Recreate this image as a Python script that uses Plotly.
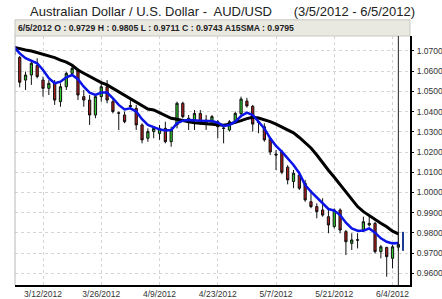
import plotly.graph_objects as go
import pandas as pd

dates = [d.strftime("%-m/%-d/%Y") for d in pd.bdate_range("2012-03-05", "2012-06-05")]

open_ = [1.0725, 1.0668, 1.0556, 1.0581, 1.0628, 1.0556, 1.0515, 1.0540, 1.0449, 1.0523,
         1.0589, 1.0606, 1.0474, 1.0457, 1.0383, 1.0474, 1.0523, 1.0449, 1.0394, 1.0383,
         1.0430, 1.0416, 1.0334, 1.0268, 1.0301, 1.0292, 1.0317, 1.0251, 1.0334, 1.0441,
         1.0350, 1.0358, 1.0391, 1.0342, 1.0342, 1.0350, 1.0319, 1.0309, 1.0350, 1.0390,
         1.0452, 1.0426, 1.0350, 1.0325, 1.0266, 1.0190, 1.0200, 1.0125, 1.0054, 1.0086,
         1.0045, 0.9954, 0.9930, 0.9913, 0.9880, 0.9831, 0.9913, 0.9806, 0.9748, 0.9766,
         0.9814, 0.9839, 0.9847, 0.9707, 0.9728, 0.9674, 0.9729]
high = [1.0735, 1.0675, 1.0598, 1.0655, 1.0664, 1.0573, 1.0556, 1.0556, 1.0540, 1.0598,
        1.0631, 1.0614, 1.0507, 1.0482, 1.0482, 1.0540, 1.0556, 1.0466, 1.0400, 1.0400,
        1.0457, 1.0433, 1.0342, 1.0317, 1.0329, 1.0334, 1.0350, 1.0325, 1.0449, 1.0449,
        1.0383, 1.0408, 1.0408, 1.0383, 1.0383, 1.0358, 1.0325, 1.0358, 1.0400, 1.0474,
        1.0468, 1.0433, 1.0358, 1.0342, 1.0275, 1.0210, 1.0210, 1.0135, 1.0111, 1.0103,
        1.0062, 1.0012, 0.9946, 0.9971, 0.9913, 0.9921, 0.9921, 0.9814, 0.9798, 0.9798,
        0.9880, 0.9888, 0.9855, 0.9740, 0.9731, 0.9740, 0.9805]
low = [1.0668, 1.0520, 1.0507, 1.0532, 1.0565, 1.0474, 1.0482, 1.0433, 1.0424, 1.0507,
       1.0581, 1.0457, 1.0424, 1.0334, 1.0367, 1.0449, 1.0441, 1.0391, 1.0309, 1.0342,
       1.0416, 1.0309, 1.0243, 1.0251, 1.0268, 1.0260, 1.0243, 1.0226, 1.0317, 1.0367,
       1.0309, 1.0309, 1.0334, 1.0309, 1.0334, 1.0268, 1.0243, 1.0301, 1.0342, 1.0380,
       1.0420, 1.0301, 1.0293, 1.0251, 1.0185, 1.0111, 1.0090, 1.0040, 1.0021, 1.0012,
       0.9954, 0.9922, 0.9872, 0.9880, 0.9798, 0.9822, 0.9798, 0.9690, 0.9715, 0.9723,
       0.9806, 0.9831, 0.9698, 0.9674, 0.9583, 0.9624, 0.9711]
close = [1.0680, 1.0545, 1.0581, 1.0639, 1.0573, 1.0515, 1.0540, 1.0457, 1.0523, 1.0589,
         1.0614, 1.0482, 1.0457, 1.0383, 1.0474, 1.0523, 1.0457, 1.0400, 1.0392, 1.0350,
         1.0425, 1.0334, 1.0260, 1.0301, 1.0317, 1.0317, 1.0251, 1.0309, 1.0441, 1.0375,
         1.0367, 1.0391, 1.0350, 1.0358, 1.0375, 1.0325, 1.0317, 1.0350, 1.0391, 1.0462,
         1.0428, 1.0338, 1.0346, 1.0260, 1.0200, 1.0185, 1.0100, 1.0062, 1.0095, 1.0021,
         0.9963, 0.9930, 0.9905, 0.9888, 0.9839, 0.9913, 0.9814, 0.9756, 0.9765, 0.9764,
         0.9855, 0.9847, 0.9707, 0.9731, 0.9682, 0.9731, 0.9743]

ma_fast = [1.0721, 1.0688, 1.0664, 1.0652, 1.0639, 1.0606, 1.0565, 1.0540, 1.0548, 1.0570,
           1.0581, 1.0560, 1.0523, 1.0494, 1.0482, 1.0494, 1.0494, 1.0466, 1.0433, 1.0411,
           1.0416, 1.0400, 1.0362, 1.0334, 1.0322, 1.0312, 1.0306, 1.0309, 1.0342, 1.0355,
           1.0358, 1.0358, 1.0355, 1.0353, 1.0353, 1.0345, 1.0329, 1.0334, 1.0350, 1.0378,
           1.0395, 1.0383, 1.0350, 1.0317, 1.0268, 1.0230, 1.0202, 1.0169, 1.0136, 1.0095,
           1.0037, 1.0004, 0.9976, 0.9943, 0.9918, 0.9910, 0.9888, 0.9850, 0.9822, 0.9811,
           0.9811, 0.9822, 0.9801, 0.9773, 0.9756, 0.9748, 0.9750]
sma15 = [1.0718, 1.0710, 1.0705, 1.0700, 1.0692, 1.0683, 1.0675, 1.0667, 1.0655, 1.0645,
         1.0629, 1.0606, 1.0590, 1.0573, 1.0560, 1.0543, 1.0532, 1.0515, 1.0499, 1.0482,
         1.0461, 1.0444, 1.0428, 1.0413, 1.0408, 1.0395, 1.0378, 1.0367, 1.0362, 1.0355,
         1.0350, 1.0345, 1.0343, 1.0342, 1.0338, 1.0335, 1.0333, 1.0338, 1.0345, 1.0355,
         1.0365, 1.0372, 1.0368, 1.0360, 1.0350, 1.0338, 1.0325, 1.0310, 1.0295, 1.0272,
         1.0248, 1.0220, 1.0185, 1.0145, 1.0110, 1.0075, 1.0040, 1.0000, 0.9965, 0.9930,
         0.9905, 0.9885, 0.9866, 0.9848, 0.9830, 0.9808, 0.9795]

tick_dates = ["3/12/2012", "3/26/2012", "4/9/2012", "4/23/2012", "5/7/2012", "5/21/2012", "6/4/2012"]
y_ticks = [0.96, 0.97, 0.98, 0.99, 1.00, 1.01, 1.02, 1.03, 1.04, 1.05, 1.06, 1.07]

title_text = "Australian Dollar / U.S. Dollar -  AUD/USD      (3/5/2012 - 6/5/2012)"

n = len(dates)
xi = list(range(n))

fig = go.Figure()
fig.add_trace(go.Candlestick(
    x=xi, open=open_, high=high, low=low, close=close,
    increasing=dict(line=dict(color="#111111", width=1), fillcolor="#2ec82e"),
    decreasing=dict(line=dict(color="#111111", width=1), fillcolor="#b01c1c"),
    whiskerwidth=0, showlegend=False, hoverinfo="skip"))
fig.add_trace(go.Scatter(x=xi, y=sma15, mode="lines", line=dict(color="#000000", width=3),
                         showlegend=False, hoverinfo="skip"))
fig.add_trace(go.Scatter(x=xi, y=ma_fast, mode="lines", line=dict(color="#0a14e6", width=2.5),
                         showlegend=False, hoverinfo="skip"))
# projected range of last bar
fig.add_trace(go.Scatter(x=[n - 1 + 0.8, n - 1 + 0.8], y=[low[-1], high[-1]], mode="lines",
                         line=dict(color="#1a3d8f", width=2), showlegend=False, hoverinfo="skip"))

tick_idx = [dates.index(d) for d in tick_dates]

fig.update_layout(
    width=442, height=299,
    margin=dict(l=15, r=32, t=36, b=14, autoexpand=False),
    paper_bgcolor="white", plot_bgcolor="white",
    boxgap=0.45,
    font=dict(family="Liberation Sans, Arial, sans-serif", size=8.5, color="#333333"),
    xaxis=dict(range=[0.19, 68.0], tickvals=tick_idx, ticktext=tick_dates,
               showgrid=True, gridcolor="#d4d4d4", griddash="dot", gridwidth=1,
               showline=True, linecolor="#000000", linewidth=2, automargin=False,
               ticks="", rangeslider=dict(visible=False), zeroline=False,
               tickfont=dict(size=8.5, color="#333333")),
    yaxis=dict(side="right", range=[0.9542, 1.0774], tickvals=y_ticks, tickformat=".4f",
               showgrid=True, gridcolor="#d4d4d4", griddash="dot", gridwidth=1,
               showline=True, linecolor="#000000", linewidth=2, automargin=False,
               ticks="outside", ticklen=2, tickcolor="#000000", zeroline=False,
               ticklabelstandoff=1,
               tickfont=dict(size=8.5, color="#333333")),
    shapes=[
        dict(type="rect", xref="paper", yref="paper", x0=0, x1=1.0, y0=1.0, y1=1.065,
             fillcolor="#e9e9e2", line=dict(color="#c8c8c0", width=1), layer="above"),
        dict(type="line", xref="paper", yref="paper", x0=0, x1=0, y0=0, y1=1,
             line=dict(color="#b8b8b8", width=1)),
        dict(type="line", xref="x", yref="paper", x0=n - 1, x1=n - 1, y0=0, y1=1,
             line=dict(color="#222222", width=1)),
    ],
    annotations=[
        dict(text=title_text, xref="paper", yref="paper", x=0.525, y=1.0 + 25 / 249,
             xanchor="center", yanchor="middle", showarrow=False,
             font=dict(size=13, color="#222222")),
        dict(text="<b>%s O : %.4f H : %.4f L : %.4f C : %.4f A15SMA : %.4f</b>" % (
            dates[-1], open_[-1], high[-1], low[-1], close[-1], sma15[-1]),
             xref="paper", yref="paper", x=0.002, y=1.0 + 8 / 249, xanchor="left",
             yanchor="middle", showarrow=False, font=dict(size=8.7, color="#222222")),
    ],
)

fig.write_html("out.html")
